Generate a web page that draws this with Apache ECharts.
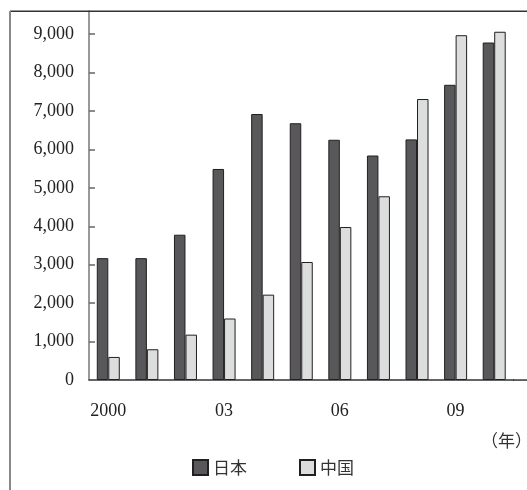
<!DOCTYPE html>
<html><head><meta charset="utf-8">
<script src="https://cdn.jsdelivr.net/npm/echarts@6/dist/echarts.min.js"></script>
<style>html,body{margin:0;padding:0;background:#fff}#c{width:527px;height:490px}</style>
</head><body><div id="c"></div>
<script>
const categories = ['2000','01','02','03','04','05','06','07','08','09','10'];
const japan = [3170, 3170, 3780, 5490, 6920, 6680, 6250, 5840, 6260, 7680, 8780];
const china = [600, 800, 1180, 1600, 2220, 3070, 3980, 4780, 7310, 8970, 9060];
const seriesNames = ['日本', '中国'];
const yearUnit = '（年）';

const serif = '"Liberation Serif", "DejaVu Serif", serif';
const cjk = '"Noto Sans CJK JP", sans-serif';
const chart = echarts.init(document.getElementById('c'));
chart.setOption({
  animation: false,
  backgroundColor: '#fff',
  grid: { left: 89, top: 11, width: 424.5, height: 369, containLabel: false },
  legend: {
    left: 187, top: 454, itemWidth: 15, itemHeight: 15, itemGap: 52,
    icon: 'rect',
    textStyle: { fontFamily: cjk, fontSize: 17, color: '#333' },
    data: seriesNames
  },
  xAxis: {
    type: 'category', data: categories, boundaryGap: true,
    axisLine: { lineStyle: { color: '#333', width: 1.5 } },
    axisTick: { inside: true, length: 7, lineStyle: { color: '#555', width: 1.5 } },
    axisLabel: { interval: 2, margin: 22, fontFamily: serif, fontSize: 18, color: '#222' },
    splitLine: { show: false }
  },
  yAxis: {
    type: 'value', min: 0, max: 9600, interval: 1000,
    axisLine: { show: true, lineStyle: { color: '#777', width: 1.5 } },
    axisTick: { show: true, inside: true, length: 6, lineStyle: { color: '#666', width: 1.5 } },
    axisLabel: { showMaxLabel: false, margin: 15, fontFamily: serif, fontSize: 18, color: '#222',
      formatter: v => v.toLocaleString('en-US') },
    splitLine: { show: false }
  },
  series: [
    { name: seriesNames[0], type: 'bar', data: japan, barWidth: 11.5, barGap: '0%',
      itemStyle: { color: '#58575a', borderColor: '#231f20', borderWidth: 1 } },
    { name: seriesNames[1], type: 'bar', data: china, barWidth: 11.5, barGap: '0%',
      itemStyle: { color: '#dcdddd', borderColor: '#231f20', borderWidth: 1 } }
  ],
  graphic: [
    { id: 'topline', type: 'rect', z: 100, shape: { x: 10, y: 10.5, width: 517, height: 1.6 }, style: { fill: '#333' } },
    { id: 'leftline', type: 'rect', z: 100, shape: { x: 9, y: 11, width: 2, height: 479 }, style: { fill: '#888' } },
    { id: 'axisext', type: 'rect', z: 100, shape: { x: 513, y: 379.3, width: 14, height: 1.5 }, style: { fill: '#333' } },
    { id: 'unit', type: 'text', right: -5, top: 432, z: 100, style: { text: yearUnit, font: '17px ' + cjk, fill: '#333' } }
  ]
});
</script></body></html>
